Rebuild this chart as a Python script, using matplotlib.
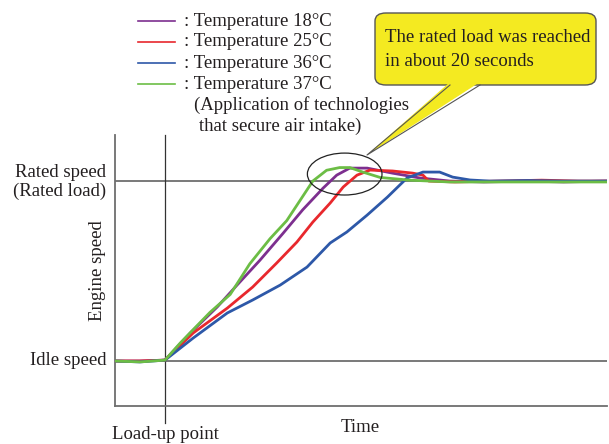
import matplotlib
matplotlib.use("Agg")
import matplotlib.pyplot as plt
from matplotlib.patches import Ellipse, FancyBboxPatch, Polygon

plt.rcParams['font.family'] = ['Liberation Serif', 'DejaVu Serif']

# time in seconds after load-up, speed as fraction between idle (0) and rated (1)
purple_t = [-6.9, -3.5, 0, 3.5, 7.2, 9.9, 13.1, 16.3, 19.0, 21.8, 23.7, 25.5, 27.9, 31.4, 35.2, 39.3, 44.0, 50.0, 55.0, 61.0]
purple_y = [0.0, 0.0, 0.005, 0.156, 0.30, 0.42, 0.56, 0.71, 0.84, 0.96, 1.033, 1.072, 1.072, 1.044, 1.017, 1.0, 0.995, 1.0, 0.995, 1.0]

red_t = [-6.9, -3.5, 0, 3.9, 8.6, 12.1, 15.4, 18.2, 20.4, 22.8, 24.6, 26.5, 28.3, 31.4, 34.2, 35.6, 36.4, 40.0, 46.0, 52.0, 57.0, 61.0]
red_y = [0.0, 0.0, 0.005, 0.156, 0.294, 0.411, 0.544, 0.661, 0.772, 0.878, 0.967, 1.033, 1.061, 1.056, 1.044, 1.033, 1.0, 0.995, 1.0, 1.005, 1.0, 1.0]

blue_t = [-6.9, -3.5, 0, 3.9, 8.6, 12.1, 15.9, 19.6, 22.8, 25.1, 27.9, 30.7, 33.4, 35.6, 37.9, 39.7, 42.1, 44.8, 50.0, 55.0, 61.0]
blue_y = [0.0, -0.005, 0.005, 0.128, 0.267, 0.339, 0.422, 0.522, 0.656, 0.717, 0.811, 0.911, 1.017, 1.05, 1.05, 1.022, 1.006, 1.0, 1.003, 1.0, 1.0]

green_t = [-6.9, -3.4, 0, 2.1, 6.2, 9.0, 11.7, 14.5, 16.8, 18.6, 20.4, 22.3, 24.1, 25.5, 27.3, 29.7, 33.8, 39.3, 46.2, 53.1, 61.0]
green_y = [0.0, -0.005, 0.005, 0.10, 0.27, 0.37, 0.54, 0.68, 0.78, 0.89, 1.00, 1.06, 1.075, 1.075, 1.05, 1.02, 1.005, 0.995, 0.995, 0.995, 0.995]

series = [
    (purple_t, purple_y, '#7d2f8f', ': Temperature 18°C'),
    (red_t, red_y, '#e8282d', ': Temperature 25°C'),
    (blue_t, blue_y, '#2d58a8', ': Temperature 36°C'),
    (green_t, green_y, '#6cbd45', ': Temperature 37°C'),
]

W, H = 609, 444
fig = plt.figure(figsize=(W / 100, H / 100), dpi=100)
ax = fig.add_axes([115 / W, 1 - 406 / H, 492 / W, 271 / H])
ax.set_xlim(-6.9, 61.0)
ax.set_ylim(-0.25, 1.256)

for t, y, c, lab in series:
    ax.plot(t, y, color=c, lw=2.0, zorder=3, solid_joinstyle='round')

ax.axhline(1.0, color='#6e6e6e', lw=1.3, zorder=2)
ax.axhline(0.0, color='#6e6e6e', lw=1.3, zorder=2)
ax.plot([0, 0], [-0.344, 1.256], color='#333333', lw=0.9, clip_on=False, zorder=2)

for s in ['top', 'right']:
    ax.spines[s].set_visible(False)
ax.spines['left'].set_color('#6e6e6e')
ax.spines['bottom'].set_color('#6e6e6e')
ax.spines['left'].set_linewidth(1.3)
ax.spines['bottom'].set_linewidth(1.3)
ax.set_xticks([])
ax.set_yticks([])

ax.add_patch(Ellipse((24.8, 1.039), 10.3, 0.233, fill=False, ec='#222222', lw=0.9, zorder=4))


def fx(px):
    return px / W


def fy(py):
    return 1 - py / H


tc = '#231f20'
fs = 13.5
fig.text(fx(106), fy(172), 'Rated speed', ha='right', va='center', fontsize=fs, color=tc)
fig.text(fx(106), fy(191), '(Rated load)', ha='right', va='center', fontsize=fs, color=tc)
fig.text(fx(106), fy(360), 'Idle speed', ha='right', va='center', fontsize=fs, color=tc)
fig.text(fx(98), fy(271), 'Engine speed', ha='center', va='center', rotation=90, fontsize=fs, color=tc)
fig.text(fx(360), fy(427), 'Time', ha='center', va='center', fontsize=fs, color=tc)
fig.text(fx(165), fy(434), 'Load-up point', ha='center', va='center', fontsize=fs, color=tc)

# legend
rows = [21, 42, 63, 84]
for (t, y, c, lab), ry in zip(series, rows):
    fig.add_artist(plt.Line2D([fx(138), fx(175)], [fy(ry), fy(ry)], color=c, lw=1.2))
    fig.text(fx(184), fy(ry), lab, ha='left', va='center', fontsize=fs, color=tc)
fig.text(fx(194), fy(105), '(Application of technologies', ha='left', va='center', fontsize=fs, color=tc)
fig.text(fx(199), fy(126), 'that secure air intake)', ha='left', va='center', fontsize=fs, color=tc)

# callout
yellow = '#f4ea21'
box = FancyBboxPatch((fx(375), fy(85)), fx(596) - fx(375), fy(13) - fy(85),
                     boxstyle='round,pad=0,rounding_size=0.018',
                     transform=fig.transFigure, fc=yellow, ec='#555555', lw=1.0, zorder=5)
fig.add_artist(box)
wedge = Polygon([(fx(450), fy(82)), (fx(480), fy(82)), (fx(367), fy(155))],
                closed=True, transform=fig.transFigure, fc=yellow, ec='none', zorder=6)
fig.add_artist(wedge)
fig.add_artist(plt.Line2D([fx(450), fx(367), fx(480)], [fy(85), fy(155), fy(85)],
                          color='#555555', lw=0.8, zorder=7))
fig.text(fx(385), fy(38), 'The rated load was reached', ha='left', va='center', fontsize=fs, color=tc, zorder=8)
fig.text(fx(385), fy(62), 'in about 20 seconds', ha='left', va='center', fontsize=fs, color=tc, zorder=8)

fig.savefig('out.png', dpi=100)
